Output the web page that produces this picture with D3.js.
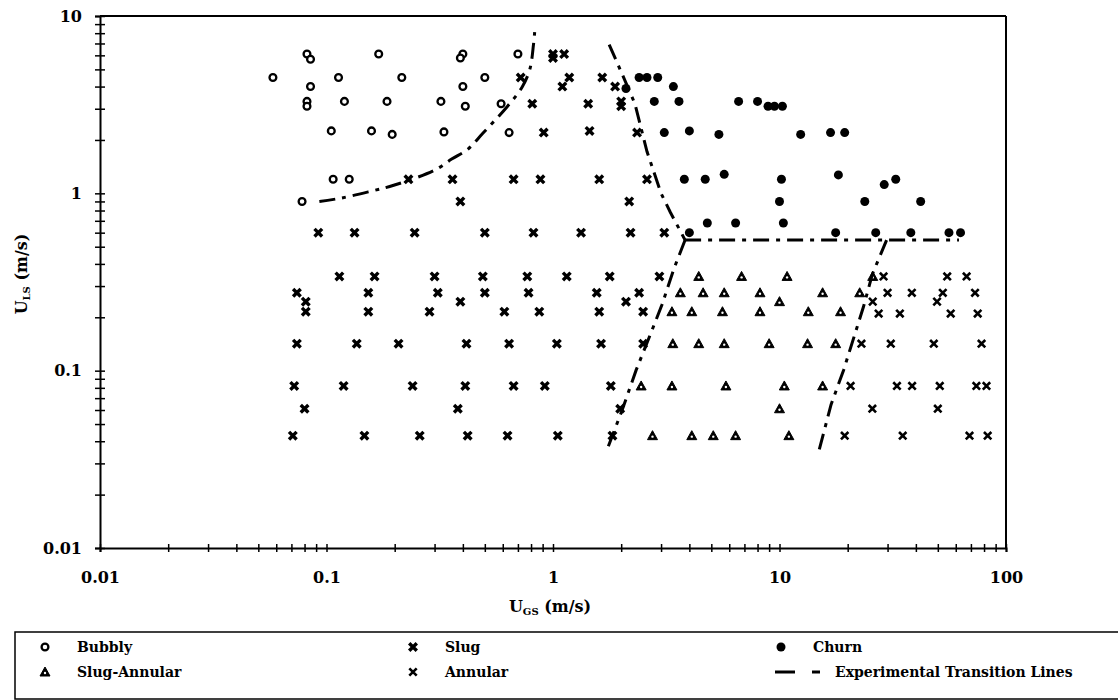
<!DOCTYPE html>
<meta charset="utf-8">
<script src="https://d3js.org/d3.v7.min.js"></script>
<style>
body { margin: 0; background: #fff; }
svg { display: block; }
</style>
<svg width="1118" height="700"></svg>
<script>
// flow pattern map data, [U_GS, U_LS] in m/s
var bubbly = [
  [0.058,4.5],[0.082,6.1],[0.085,5.7],[0.17,6.1],[0.113,4.5],[0.085,4.0],[0.082,3.3],[0.082,3.1],
  [0.12,3.3],[0.185,3.3],[0.105,2.25],[0.158,2.25],[0.195,2.15],[0.107,1.2],[0.126,1.2],[0.078,0.9],
  [0.215,4.5],[0.40,6.1],[0.39,5.8],[0.40,4.0],[0.50,4.5],[0.32,3.3],[0.41,3.1],[0.59,3.2],
  [0.33,2.22],[0.64,2.2],[0.70,6.1]
];
var slug = [
  [1.0,6.1],[1.12,6.1],[1.0,5.8],
  [0.72,4.5],[1.18,4.5],[1.65,4.5],[1.1,4.0],[1.88,4.0],
  [0.81,3.2],[1.43,3.2],[2.0,3.3],[2.0,3.1],
  [0.91,2.2],[1.45,2.25],[2.35,2.2],
  [0.23,1.2],[0.36,1.2],[0.67,1.2],[0.88,1.2],[1.6,1.2],[2.6,1.2],
  [0.39,0.9],[2.17,0.9],
  [0.092,0.6],[0.133,0.6],[0.245,0.6],[0.5,0.6],[0.82,0.6],[1.33,0.6],[2.2,0.6],[3.1,0.6],
  [0.114,0.34],[0.163,0.34],[0.30,0.34],[0.49,0.34],[0.77,0.34],[1.15,0.34],[1.78,0.34],[2.95,0.34],
  [0.074,0.275],[0.153,0.275],[0.31,0.275],[0.5,0.275],[0.78,0.275],[1.56,0.275],[2.4,0.275],
  [0.081,0.245],[0.39,0.245],[2.1,0.245],
  [0.081,0.215],[0.153,0.215],[0.285,0.215],[0.61,0.215],[0.87,0.215],[1.6,0.215],[2.5,0.215],
  [0.074,0.142],[0.136,0.142],[0.208,0.142],[0.415,0.142],[0.64,0.142],[1.04,0.142],[1.63,0.142],[2.5,0.142],
  [0.072,0.082],[0.119,0.082],[0.24,0.082],[0.41,0.082],[0.67,0.082],[0.92,0.082],[1.8,0.082],
  [0.08,0.061],[0.38,0.061],[1.98,0.061],
  [0.071,0.043],[0.147,0.043],[0.258,0.043],[0.42,0.043],[0.63,0.043],[1.05,0.043],[1.83,0.043]
];
var churn = [
  [2.1,3.9],[2.4,4.5],[2.6,4.5],[2.9,4.5],[3.4,4.0],
  [2.8,3.3],[3.6,3.3],[6.6,3.3],[8.0,3.3],[8.9,3.1],[9.5,3.1],[10.3,3.1],
  [3.1,2.2],[4.0,2.25],[5.4,2.15],[12.4,2.15],[16.8,2.2],[19.4,2.2],
  [3.8,1.2],[4.7,1.2],[5.7,1.28],[10.2,1.2],[18.2,1.27],[29,1.12],[32.6,1.2],
  [10,0.9],[23.8,0.9],[42,0.9],
  [4.0,0.6],[4.8,0.68],[6.4,0.68],[10.4,0.68],[17.7,0.6],[26.6,0.6],[38,0.6],[56,0.6],[63,0.6]
];
var slugAnnular = [
  [4.4,0.34],[6.8,0.34],[10.8,0.34],[25.8,0.34],
  [3.65,0.275],[4.6,0.275],[5.7,0.275],[8.2,0.275],[15.5,0.275],[22.6,0.275],
  [10,0.245],
  [3.35,0.215],[4.1,0.215],[5.6,0.215],[8.2,0.215],[13.4,0.215],[18.6,0.215],
  [3.38,0.142],[4.4,0.142],[5.7,0.142],[9.0,0.142],[13.3,0.142],[17.7,0.142],
  [2.45,0.082],[3.35,0.082],[5.8,0.082],[10.5,0.082],[15.5,0.082],
  [10,0.061],
  [2.75,0.043],[4.1,0.043],[5.1,0.043],[6.4,0.043],[11,0.043]
];
var annular = [
  [28.8,0.34],[55,0.34],[67,0.34],
  [30,0.275],[38.4,0.275],[52.6,0.275],[73,0.275],
  [25.8,0.245],[49.6,0.245],
  [27.4,0.21],[34,0.21],[57,0.21],[75,0.21],
  [23,0.142],[31,0.142],[48,0.142],[78,0.142],
  [20.6,0.082],[33,0.082],[38.5,0.082],[51,0.082],[74,0.082],[82,0.082],
  [25.7,0.061],[50,0.061],
  [19.4,0.043],[35,0.043],[69,0.043],[83,0.043]
];

// experimental transition lines
var lineBubblySlug = [[0.093,0.9],[0.116,0.94],[0.158,1.03],[0.198,1.11],[0.30,1.35],[0.357,1.56],
  [0.42,1.77],[0.49,2.18],[0.63,3.1],[0.73,3.97],[0.79,5.0],[0.82,6.9],[0.83,8.1]];
var lineSlugChurn = [[1.77,6.9],[2.02,4.7],[2.3,3.2],[2.6,1.72],[3.0,1.0],[3.3,0.78],[3.83,0.545]];
var lineChurnAnnular = [[3.83,0.545],[62,0.545]];
var lineSlugSA = [[3.83,0.545],[3.43,0.38],[3.03,0.236],[2.69,0.16],[2.33,0.101],[2.02,0.06],[1.72,0.035]];
var lineSAAnnular = [[29.7,0.545],[25.7,0.35],[23.5,0.23],[19.2,0.101],[16.9,0.0645],[14.9,0.035]];

var xTickLabels = ["0.01","0.1","1","10","100"];
var yTickLabels = ["0.01","0.1","1","10"];
var legendItems = [
  {name: "Bubbly", type: "bubbly"},
  {name: "Slug", type: "slug"},
  {name: "Churn", type: "churn"},
  {name: "Slug-Annular", type: "slugAnnular"},
  {name: "Annular", type: "annular"},
  {name: "Experimental Transition Lines", type: "line"}
];

var font = "'DejaVu Serif', serif";
var svg = d3.select("svg");

var x = d3.scaleLog().domain([0.01, 100]).range([100, 1006]);
var y = d3.scaleLog().domain([0.01, 10]).range([548, 16]);

function isPow10(d) { return Math.abs(Math.log10(d) - Math.round(Math.log10(d))) < 1e-9; }

// x axis
var gx = svg.append("g")
  .attr("transform", "translate(0," + y(0.01) + ")")
  .call(d3.axisBottom(x).tickValues(x.ticks()).tickSizeOuter(0).tickSize(4)
    .tickFormat(function(d) { return isPow10(d) ? xTickLabels[Math.round(Math.log10(d)) + 2] : ""; }));
gx.select(".domain").attr("stroke-width", 2);
gx.selectAll(".tick line").attr("y1", -4).attr("y2", 4).attr("stroke-width", 1.5);
gx.selectAll(".tick text").attr("y", 24).attr("font-family", font).attr("font-weight", "bold")
  .attr("font-size", 16).attr("fill", "#000");

// y axis
var gy = svg.append("g")
  .attr("transform", "translate(" + x(0.01) + ",0)")
  .call(d3.axisLeft(y).tickValues(y.ticks()).tickSizeOuter(0).tickSize(5)
    .tickFormat(function(d) { return isPow10(d) ? yTickLabels[Math.round(Math.log10(d)) + 2] : ""; }));
gy.select(".domain").attr("stroke-width", 2);
gy.selectAll(".tick line").attr("x1", -5).attr("x2", 5).attr("stroke-width", 1.5);
gy.selectAll(".tick text").attr("x", -18).attr("font-family", font).attr("font-weight", "bold")
  .attr("font-size", 16).attr("fill", "#000");

// frame top and right
svg.append("line").attr("x1", x(0.01)).attr("x2", x(100)).attr("y1", y(10)).attr("y2", y(10))
  .attr("stroke", "#000").attr("stroke-width", 2);
svg.append("line").attr("x1", x(100)).attr("x2", x(100)).attr("y1", y(10)).attr("y2", y(0.01))
  .attr("stroke", "#000").attr("stroke-width", 2);

// axis titles
var xt = svg.append("text").attr("x", 550).attr("y", 612).attr("text-anchor", "middle")
  .attr("font-family", font).attr("font-weight", "bold").attr("font-size", 16);
xt.append("tspan").text("U");
xt.append("tspan").attr("font-size", 10).attr("dy", 3).text("GS");
xt.append("tspan").attr("dy", -3).text(" (m/s)");

var yt = svg.append("text").attr("transform", "translate(27,274) rotate(-90)").attr("text-anchor", "middle")
  .attr("font-family", font).attr("font-weight", "bold").attr("font-size", 16);
yt.append("tspan").text("U");
yt.append("tspan").attr("font-size", 10).attr("dy", 3).text("LS");
yt.append("tspan").attr("dy", -3).text(" (m/s)");

// markers
function xPath(h) { return "M" + (-h) + "," + (-h) + "L" + h + "," + h + "M" + (-h) + "," + h + "L" + h + "," + (-h); }
var triPath = "M0,-5L5,4L-5,4Z";

function drawMarker(sel, type) {
  if (type == "bubbly") {
    sel.append("circle").attr("r", 3.4).attr("fill", "#fff").attr("stroke", "#000").attr("stroke-width", 2.3);
  } else if (type == "churn") {
    sel.append("circle").attr("r", 4.5).attr("fill", "#000");
  } else if (type == "slugAnnular") {
    sel.append("path").attr("d", triPath).attr("fill", "#000").attr("stroke", "#000")
      .attr("stroke-width", 1).attr("stroke-linejoin", "round");
    sel.append("circle").attr("cy", 1).attr("r", 1.2).attr("fill", "#fff");
  } else if (type == "slug") {
    sel.append("path").attr("d", xPath(3.8)).attr("stroke", "#000").attr("stroke-width", 3.4);
  } else if (type == "annular") {
    sel.append("path").attr("d", xPath(3.7)).attr("stroke", "#000").attr("stroke-width", 2.6);
  }
}

var series = [["bubbly", bubbly], ["slug", slug], ["churn", churn], ["slugAnnular", slugAnnular], ["annular", annular]];
series.forEach(function(s) {
  svg.append("g").selectAll("g")
    .data(s[1])
    .enter().append("g")
    .attr("transform", function(d) { return "translate(" + x(d[0]) + "," + y(d[1]) + ")"; })
    .each(function() { drawMarker(d3.select(this), s[0]); });
});

// transition lines
var line = d3.line().x(function(d) { return x(d[0]); }).y(function(d) { return y(d[1]); });
var curved = d3.line().x(function(d) { return x(d[0]); }).y(function(d) { return y(d[1]); }).curve(d3.curveCatmullRom);
[lineBubblySlug, lineSlugChurn, lineChurnAnnular, lineSlugSA, lineSAAnnular].forEach(function(l, i) {
  svg.append("path")
    .attr("d", i == 0 ? curved(l) : line(l))
    .attr("fill", "none")
    .attr("stroke", "#000")
    .attr("stroke-width", 3)
    .attr("stroke-dasharray", "16,7,4,7");
});

// legend
svg.append("rect").attr("x", 15).attr("y", 632).attr("width", 1120).attr("height", 67)
  .attr("fill", "none").attr("stroke", "#000").attr("stroke-width", 1.5);

var legendCols = [45, 413, 781];
var legendRows = [647, 672];
var legend = svg.append("g").selectAll("g")
  .data(legendItems)
  .enter().append("g")
  .attr("transform", function(d, i) { return "translate(" + legendCols[i % 3] + "," + legendRows[Math.floor(i / 3)] + ")"; });

legend.each(function(d) {
  var g = d3.select(this);
  if (d.type == "line") {
    g.append("line").attr("x1", -6).attr("x2", 14).attr("stroke", "#000").attr("stroke-width", 3);
    g.append("line").attr("x1", 31).attr("x2", 39).attr("stroke", "#000").attr("stroke-width", 3);
  } else {
    drawMarker(g, d.type);
  }
  g.append("text")
    .attr("x", d.type == "line" ? 54 : 32)
    .attr("dy", "0.35em")
    .attr("font-family", font).attr("font-weight", "bold").attr("font-size", 14)
    .text(d.name);
});
</script>
